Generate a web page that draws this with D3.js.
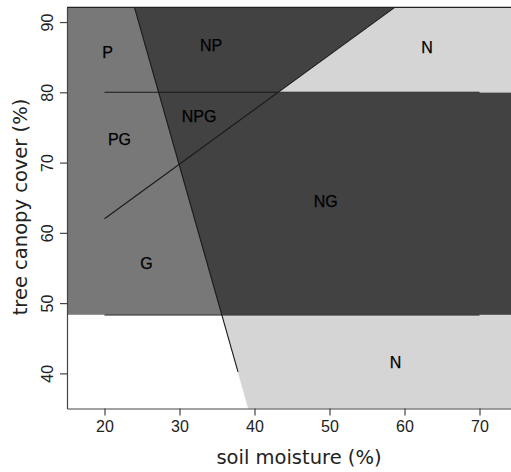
<!DOCTYPE html>
<html>
<head>
<meta charset="utf-8">
<script src="https://cdn.jsdelivr.net/npm/d3@7/dist/d3.min.js"></script>
<style>
  html, body { margin: 0; padding: 0; background: #fff; }
  svg { display: block; }
</style>
</head>
<body>
<svg id="chart" width="511" height="472"></svg>
<script>
// Axis extents (soil moisture %, tree canopy cover %)
const moistureDomain = [15, 75];
const canopyDomain = [35, 92.1];
const xTicks = [20, 30, 40, 50, 60, 70];
const yTicks = [40, 50, 60, 70, 80, 90];

// Threshold lines separating the vegetation states
const upperCanopyLine = [[20, 80], [70, 80]];
const lowerCanopyLine = [[20, 48.3], [70, 48.3]];
const moistureLine = [[24.0, 92.1], [37.8, 40.2]];
const diagonalLine = [[20, 62], [58.7, 92.1]];

// State labels
const stateNames = ["P", "NP", "N", "PG", "NPG", "NG", "G", "N"];
const stateX = [20.4, 34.2, 63.0, 22.0, 32.6, 49.5, 25.6, 58.8];
const stateY = [85.7, 86.6, 86.4, 73.3, 76.5, 64.4, 55.6, 41.5];

const svg = d3.select("#chart");
const x = d3.scaleLinear().domain(moistureDomain).range([67, 517]);
const y = d3.scaleLinear().domain(canopyDomain).range([408.5, 7.3]);

const [x0, x1] = moistureDomain;
const [y0, y1] = canopyDomain;
const hiC = upperCanopyLine[0][1];
const loC = lowerCanopyLine[0][1];

// x position of the steep moisture boundary at canopy value v
const steepX = v => {
  const [[ax, ay], [bx, by]] = moistureLine;
  return ax + (v - ay) * (bx - ax) / (by - ay);
};
// x position of the diagonal boundary at canopy value v
const diagX = v => {
  const [[ax, ay], [bx, by]] = diagonalLine;
  return ax + (v - ay) * (bx - ax) / (by - ay);
};

const regions = [
  { fill: "#787878", pts: [[x0, y1], [steepX(y1), y1], [steepX(loC), loC], [x0, loC]] },
  { fill: "#ffffff", pts: [[x0, loC], [steepX(loC), loC], [steepX(y0), y0], [x0, y0]] },
  { fill: "#424242", pts: [[steepX(y1), y1], [diagX(y1), y1], [diagX(hiC), hiC], [x1, hiC], [x1, loC], [steepX(loC), loC]] },
  { fill: "#d5d5d5", pts: [[diagX(y1), y1], [x1, y1], [x1, hiC], [diagX(hiC), hiC]] },
  { fill: "#d5d5d5", pts: [[steepX(loC), loC], [x1, loC], [x1, y0], [steepX(y0), y0]] }
];

svg.append("clipPath").attr("id", "plotClip")
  .append("rect")
  .attr("x", x(x0)).attr("y", y(y1))
  .attr("width", x(x1) - x(x0)).attr("height", y(y0) - y(y1));

const plot = svg.append("g").attr("clip-path", "url(#plotClip)");

const line = d3.line().x(d => x(d[0])).y(d => y(d[1]));

plot.selectAll("path.region")
  .data(regions)
  .join("path")
  .attr("class", "region")
  .attr("d", d => line(d.pts) + "Z")
  .attr("fill", d => d.fill)
  .attr("stroke", d => d.fill)
  .attr("stroke-width", 0.5);

plot.selectAll("path.boundary")
  .data([upperCanopyLine, lowerCanopyLine, moistureLine, diagonalLine])
  .join("path")
  .attr("class", "boundary")
  .attr("d", line)
  .attr("fill", "none")
  .attr("stroke", "#1a1a1a")
  .attr("stroke-width", 1.1);

plot.selectAll("text.state")
  .data(stateNames)
  .join("text")
  .attr("class", "state")
  .attr("x", (d, i) => x(stateX[i]))
  .attr("y", (d, i) => y(stateY[i]))
  .attr("text-anchor", "middle")
  .attr("dominant-baseline", "central")
  .attr("font-family", "Liberation Sans, Arial, sans-serif")
  .attr("font-size", 16)
  .attr("fill", "#000")
  .attr("stroke", "#000")
  .attr("stroke-width", 0.25)
  .text(d => d);

// Frame: top edge, left and bottom axes
svg.append("line")
  .attr("x1", x(x0)).attr("x2", x(x1))
  .attr("y1", y(y1)).attr("y2", y(y1))
  .attr("stroke", "#222").attr("stroke-width", 1.2);

const xAxis = svg.append("g")
  .attr("transform", `translate(0,${y(y0)})`)
  .call(d3.axisBottom(x).tickValues(xTicks).tickSize(7).tickSizeOuter(0).tickPadding(5));
const yAxis = svg.append("g")
  .attr("transform", `translate(${x(x0)},0)`)
  .call(d3.axisLeft(y).tickValues(yTicks).tickSize(7).tickSizeOuter(0).tickPadding(5));

[xAxis, yAxis].forEach(g => {
  g.select(".domain").attr("stroke", "#444").attr("stroke-width", 1.2);
  g.selectAll(".tick line").attr("stroke", "#444").attr("stroke-width", 1.2);
  g.selectAll(".tick text")
    .attr("font-family", "Liberation Sans, Arial, sans-serif")
    .attr("font-size", 16)
    .attr("fill", "#222");
});

// y tick labels run parallel to the axis
yAxis.selectAll(".tick text")
  .attr("x", null).attr("dy", null)
  .attr("text-anchor", "middle")
  .attr("transform", "translate(-20,0) rotate(-90)")
  .attr("dominant-baseline", "central");

svg.append("text")
  .attr("x", 299).attr("y", 464)
  .attr("text-anchor", "middle")
  .attr("font-family", "DejaVu Sans, sans-serif")
  .attr("font-size", 19.5)
  .attr("fill", "#222")
  .text("soil moisture (%)");

svg.append("text")
  .attr("transform", "translate(20,207) rotate(-90)")
  .attr("text-anchor", "middle")
  .attr("dominant-baseline", "central")
  .attr("font-family", "DejaVu Sans, sans-serif")
  .attr("font-size", 19.5)
  .attr("fill", "#222")
  .text("tree canopy cover (%)");
</script>
</body>
</html>
